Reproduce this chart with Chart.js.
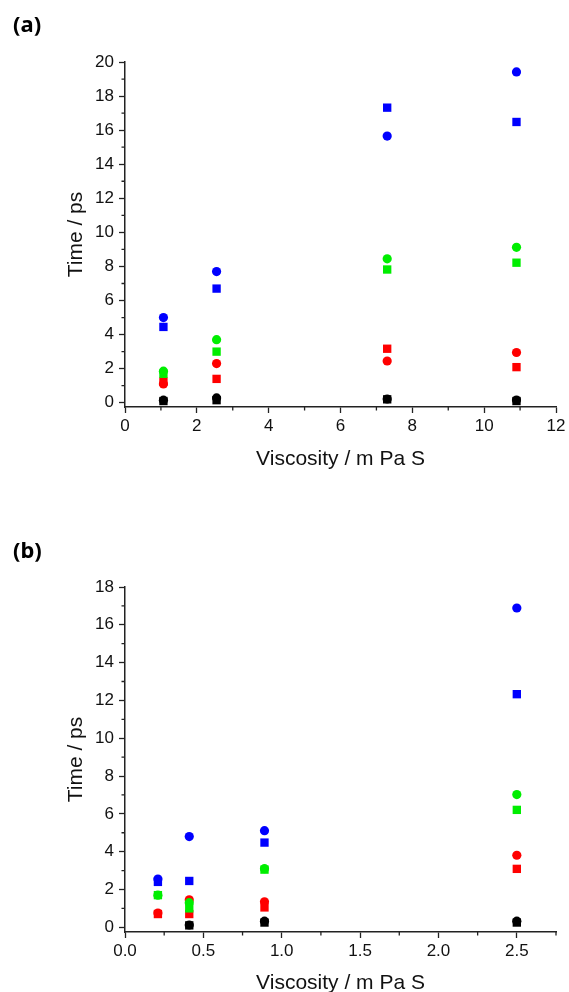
<!DOCTYPE html>
<html>
<head>
<meta charset="utf-8">
<script src="https://cdn.jsdelivr.net/npm/chart.js@4/dist/chart.umd.min.js"></script>
<style>
  html, body { margin: 0; padding: 0; background: #fff; overflow: hidden; }
  body { width: 569px; height: 992px; position: relative; }
  .panel { position: absolute; left: 0; width: 569px; }
  .tag { position: absolute; left: 13px; font: bold 22px "Noto Sans", "Open Sans", sans-serif; color: #000; }
</style>
</head>
<body>
<div class="panel" style="top:0;height:496px"><canvas id="chartA" width="569" height="496"></canvas></div>
<div class="panel" style="top:496px;height:510px"><canvas id="chartB" width="569" height="510"></canvas></div>
<div class="tag" style="top:8px">(a)</div>
<div class="tag" style="top:534px">(b)</div>
<script>
// panel (a)
const viscA = [1.07, 2.55, 7.3, 10.9];
const blueCircA = [5.0, 7.7, 15.65, 19.42];
const blueSqA = [4.45, 6.7, 17.32, 16.48];
const greenCircA = [1.85, 3.7, 8.45, 9.12];
const greenSqA = [1.7, 3.0, 7.82, 8.22];
const redCircA = [1.1, 2.3, 2.45, 2.95];
const redSqA = [1.25, 1.4, 3.17, 2.09];
const blackCircA = [0.15, 0.28, 0.22, 0.16];
const blackSqA = [0.1, 0.15, 0.2, 0.1];

// panel (b)
const viscB = [0.21, 0.41, 0.89, 2.5];
const blueCircB = [2.55, 4.8, 5.11, 16.89];
const blueSqB = [2.4, 2.45, 4.48, 12.33];
const greenCircB = [1.7, 1.3, 3.1, 7.02];
const greenSqB = [1.7, 1.0, 3.05, 6.21];
const redCircB = [0.75, 1.45, 1.35, 3.81];
const redSqB = [0.7, 0.7, 1.05, 3.09];
const blackCircB = [null, 0.12, 0.32, 0.32];
const blackSqB = [null, 0.1, 0.25, 0.25];

const axisColor = '#222';
const tickFont = { family: '"Liberation Sans", Arial, sans-serif', size: 17 };
const titleFont = { family: '"Liberation Sans", Arial, sans-serif', size: 21 };

function pts(xs, ys) {
    return xs.map((x, i) => ({ x: x, y: ys[i] })).filter(p => p.y !== null);
}

function ds(xs, ys, color, style) {
    return {
        data: pts(xs, ys),
        pointStyle: style,
        pointRadius: style === 'circle' ? 4.6 : 5.9,
        pointBackgroundColor: color,
        pointBorderWidth: 0,
        showLine: false
    };
}

const isMul = (v, m) => Math.abs(v / m - Math.round(v / m)) < 1e-6;

// short minor tick marks, placed through the chart's scales
const minorTicks = {
    id: 'minorTicks',
    afterDraw(chart, args, opts) {
        const c = chart.ctx;
        const xs = chart.scales.x, ys = chart.scales.y;
        c.save();
        c.strokeStyle = axisColor;
        c.lineWidth = 1.3;
        c.beginPath();
        xs.ticks.forEach(t => {
            if (isMul(t.value, opts.xMajor)) return;
            const px = xs.getPixelForValue(t.value);
            c.moveTo(px, xs.top); c.lineTo(px, xs.top + 3.5);
        });
        ys.ticks.forEach(t => {
            if (isMul(t.value, 2)) return;
            const py = ys.getPixelForValue(t.value);
            c.moveTo(ys.right, py); c.lineTo(ys.right - 3.5, py);
        });
        c.stroke();
        c.restore();
    }
};

function makeChart(id, xs, series, xMax, xStep, xMajor, xDigits, yMax, top, xBoxH, titlePadBottom) {
    const datasets = [
        ds(xs, series[0], '#000000', 'circle'),
        ds(xs, series[1], '#00ee00', 'circle'),
        ds(xs, series[2], '#0000ff', 'circle'),
        ds(xs, series[3], '#ff0000', 'circle'),
        ds(xs, series[4], '#000000', 'rect'),
        ds(xs, series[5], '#00ee00', 'rect'),
        ds(xs, series[6], '#0000ff', 'rect'),
        ds(xs, series[7], '#ff0000', 'rect')
    ];
    return new Chart(document.getElementById(id), {
        type: 'scatter',
        data: { datasets: datasets },
        options: {
            responsive: false,
            animation: false,
            layout: { padding: { left: 0, top: top, right: 13, bottom: 0 } },
            plugins: { legend: { display: false }, tooltip: { enabled: false }, minorTicks: { xMajor: xMajor } },
            scales: {
                x: {
                    type: 'linear',
                    min: 0,
                    max: xMax,
                    afterFit: s => { s.height = xBoxH; },
                    border: { display: true, color: axisColor, width: 1.5 },
                    grid: {
                        drawOnChartArea: false,
                        tickLength: 6,
                        tickWidth: 1.3,
                        tickColor: ctx => isMul(ctx.tick.value, xMajor) ? axisColor : 'rgba(0,0,0,0)'
                    },
                    ticks: {
                        stepSize: xStep,
                        includeBounds: false,
                        autoSkip: false,
                        maxRotation: 0,
                        padding: 3,
                        color: '#111',
                        font: tickFont,
                        callback: v => isMul(v, xMajor) ? v.toFixed(xDigits) : ''
                    },
                    title: {
                        display: true,
                        text: 'Viscosity / m Pa S',
                        color: '#111',
                        font: titleFont,
                        padding: { top: 2, bottom: titlePadBottom }
                    }
                },
                y: {
                    type: 'linear',
                    min: -0.25,
                    max: yMax,
                    afterFit: s => { s.width = 125; },
                    border: { display: true, color: axisColor, width: 1.5 },
                    grid: {
                        drawOnChartArea: false,
                        tickLength: 6,
                        tickWidth: 1.3,
                        tickColor: ctx => isMul(ctx.tick.value, 2) ? axisColor : 'rgba(0,0,0,0)'
                    },
                    ticks: {
                        stepSize: 1,
                        includeBounds: false,
                        autoSkip: false,
                        padding: 5,
                        color: '#111',
                        font: tickFont,
                        callback: v => isMul(v, 2) ? String(Math.round(v)) : ''
                    },
                    title: {
                        display: true,
                        text: 'Time / ps',
                        color: '#111',
                        font: titleFont,
                        padding: { top: 64, bottom: 2 }
                    }
                }
            }
        },
        plugins: [minorTicks]
    });
}

makeChart('chartA', viscA,
    [blackCircA, greenCircA, blueCircA, redCircA, blackSqA, greenSqA, blueSqA, redSqA],
    12, 1, 2, 0, 20, 62, 89, 24);

makeChart('chartB', viscB,
    [blackCircB, greenCircB, blueCircB, redCircB, blackSqB, greenSqB, blueSqB, redSqB],
    2.75, 0.25, 0.5, 1, 18, 91, 74, 10);
</script>
</body>
</html>
